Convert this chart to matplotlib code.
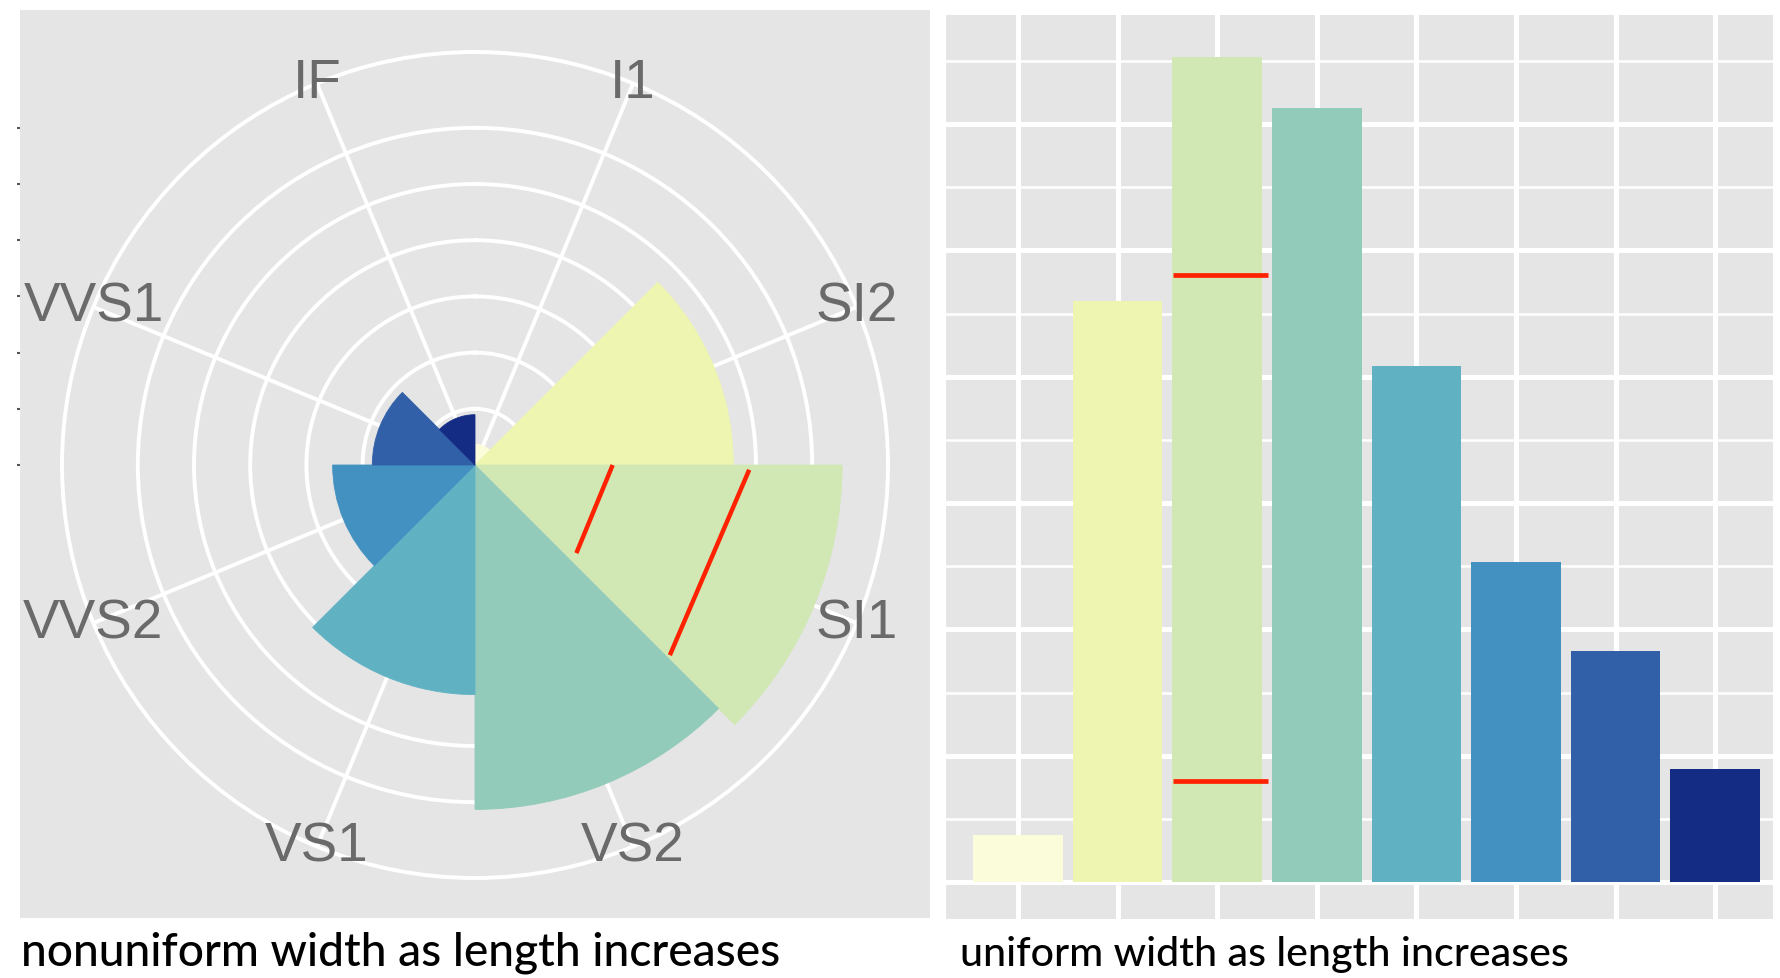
import numpy as np
import matplotlib
matplotlib.use("Agg")
import matplotlib.pyplot as plt

# ---------------- data ----------------
clarity = ['I1', 'SI2', 'SI1', 'VS2', 'VS1', 'VVS2', 'VVS1', 'IF']
counts = [741, 9194, 13065, 12258, 8171, 5066, 3655, 1790]
colors = ['#FBFCDA', '#EEF5B0', '#D1E8B5', '#92CBB9', '#60B2C3', '#4391C1', '#3160A8', '#152C85']

r_breaks = [0, 2000, 4000, 6000, 8000, 10000, 12000]
bar_major = [0, 2000, 4000, 6000, 8000, 10000, 12000]
bar_minor = [1000, 3000, 5000, 7000, 9000, 11000, 13000]

# red marker lines: polar (theta_deg, r) endpoints, bar (x0, x1, y)
polar_red = [((90.0, 4900), (131.0, 4780)), ((91.0, 9760), (134.3, 9690))]
bar_red = [(2.56, 3.51, 9612), (2.56, 3.51, 1599)]

caption_left = 'nonuniform width as length increases'
caption_right = 'uniform width as length increases'

# ---------------- figure ----------------
W, H = 1780, 979
fig = plt.figure(figsize=(W / 100, H / 100), dpi=100)
fig.patch.set_facecolor('white')

def px_axes(x0, y0, x1, y1, **kw):
    return fig.add_axes([x0 / W, 1 - y1 / H, (x1 - x0) / W, (y1 - y0) / H], **kw)

PANEL = '#E5E5E5'
RED = '#FF2200'
GRID = 'white'

# ---- polar panel background (square) ----
cx, cy = 475, 466
rmax = max(counts) * 0.45 / 0.4
outer_px = 413
ppc = outer_px / rmax  # pixels per count
bx0, by0, bx1, by1 = 20, 11, 930, 919
bg = px_axes(bx0, by0, bx1, by1)
bg.set_facecolor(PANEL)
bg.set_xlim(-(cx - bx0) / ppc, (bx1 - cx) / ppc)
bg.set_ylim(-(by1 - cy) / ppc, (cy - by0) / ppc)
for s in bg.spines.values():
    s.set_visible(False)
bg.set_xticks([])
bg.set_yticks(r_breaks)
bg.set_yticklabels([])
bg.tick_params(axis='y', length=2.5, width=1.5, color='#555555', direction='out')
bg.set_zorder(0)

# ---- polar axes ----
pax = px_axes(cx - outer_px, cy - outer_px, cx + outer_px, cy + outer_px, projection='polar')
pax.set_zorder(1)
pax.patch.set_alpha(0)
pax.set_theta_zero_location('N')
pax.set_theta_direction(-1)
n = len(clarity)
step = 2 * np.pi / n
theta = (np.arange(n) + 0.5) * step
pax.bar(theta, counts, width=step, bottom=0, color=colors, edgecolor=colors,
        linewidth=0.6, align='center', zorder=2)
pax.set_ylim(0, rmax)
pax.set_rgrids(r_breaks[1:], labels=[''] * (len(r_breaks) - 1))
pax.set_xticks(theta)
pax.set_xticklabels([])
pax.set_axisbelow(True)
pax.grid(True, color=GRID, linewidth=2.8)
pax.spines['polar'].set_color(GRID)
pax.spines['polar'].set_linewidth(2.8)
pax.tick_params(length=0)
for lab, th in zip(clarity, theta):
    pax.text(th, rmax, lab, ha='center', va='center', fontsize=39.5,
             family='Liberation Sans', color='#6A6A6A', zorder=5)
for (t0, r0), (t1, r1) in polar_red:
    pax.plot(np.deg2rad([t0, t1]), [r0, r1], color=RED, linewidth=3.2,
             solid_capstyle='butt', zorder=6)

# ---- bar chart ----
bax = px_axes(946, 16, 1773, 920)
bax.set_facecolor(PANEL)
x = np.arange(1, n + 1)
bax.bar(x, counts, width=0.9, color=colors, edgecolor='none', zorder=2)
bax.set_xlim(0.277, 8.58)
bax.set_ylim(-586, 13729)
bax.set_xticks(x)
bax.set_yticks(bar_major)
bax.set_yticks(bar_minor, minor=True)
bax.set_xticklabels([])
bax.set_yticklabels([])
bax.tick_params(which='both', length=0)
bax.set_axisbelow(True)
bax.grid(True, which='major', color=GRID, linewidth=3.6)
bax.grid(True, which='minor', axis='y', color=GRID, linewidth=1.8)
for s in bax.spines.values():
    s.set_visible(False)
for x0, x1, y in bar_red:
    bax.plot([x0, x1], [y, y], color=RED, linewidth=3.4, solid_capstyle='butt', zorder=4)

# ---- captions ----
t1 = fig.text(21 / W, 1 - 966 / H, caption_left, ha='left', va='baseline',
              fontsize=34, family='Lato', weight=500, color='black')
t2 = fig.text(960 / W, 1 - 966 / H, caption_right, ha='left', va='baseline',
              fontsize=34, family='Lato', weight=500, color='black')
fig.canvas.draw()
rend = fig.canvas.get_renderer()
for t, target in ((t1, 762), (t2, 610)):
    w = t.get_window_extent(rend).width
    t.set_fontsize(t.get_fontsize() * target / w)

fig.savefig('out.png', dpi=100, facecolor='white')
